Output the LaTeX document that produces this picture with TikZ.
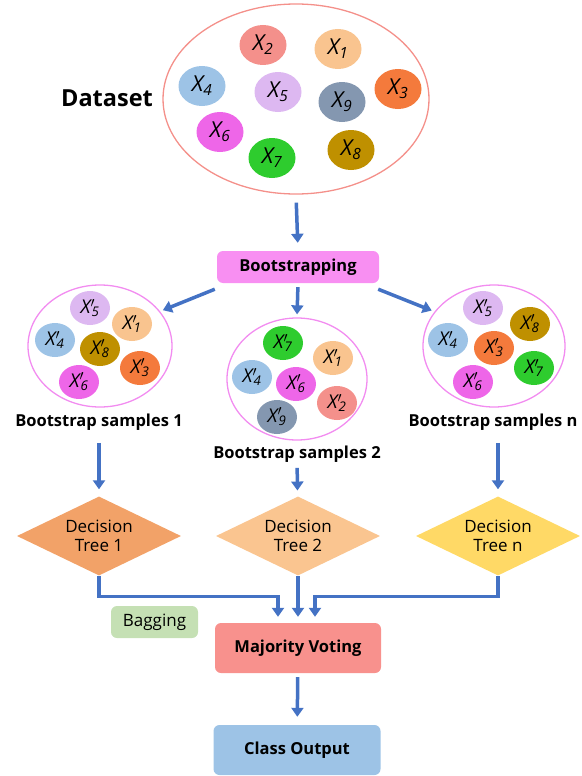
\documentclass[tikz,border=0pt]{standalone}
\usepackage{fontspec}
\setmainfont{Open Sans}
\usetikzlibrary{shapes.geometric,arrows.meta}
\definecolor{arrowblue}{HTML}{4472C4}
\definecolor{dataline}{HTML}{F4908A}
\definecolor{poolline}{HTML}{F28CF0}
\definecolor{cA}{HTML}{F9C48F}
\definecolor{cB}{HTML}{F4908B}
\definecolor{cC}{HTML}{F47A3C}
\definecolor{cD}{HTML}{9DC3E6}
\definecolor{cE}{HTML}{DDB8F1}
\definecolor{cF}{HTML}{EE66E8}
\definecolor{cG}{HTML}{2ECC2E}
\definecolor{cH}{HTML}{BF9000}
\definecolor{cI}{HTML}{8497B0}
\definecolor{bootfill}{HTML}{F88FF2}
\definecolor{tAfill}{HTML}{F2A268}
\definecolor{tBfill}{HTML}{FAC590}
\definecolor{tNfill}{HTML}{FFD966}
\definecolor{bagfill}{HTML}{C5E0B4}
\definecolor{mvfill}{HTML}{F8918D}
\definecolor{outfill}{HTML}{9DC3E6}
\newcommand\xp[1]{X\rlap{$^{\prime}$}\textsubscript{\kern1pt#1}}
\tikzset{px/.style={x=1pt,y=-1pt},
  ball/.style={ellipse,minimum width=47pt,minimum height=40pt,inner sep=0pt,font=\fontsize{22}{22}\selectfont\itshape},
  sball/.style={ellipse,minimum width=40pt,minimum height=34pt,inner sep=0pt,font=\fontsize{19}{19}\selectfont\itshape},
  pool/.style={ellipse,draw=poolline,line width=1.3pt,inner sep=0pt,minimum height=122pt},
  arr/.style={arrowblue,line width=3.5pt,-{Triangle[length=9pt,width=12pt]}},
  box/.style={rounded corners=6pt,inner sep=0pt,font=\fontsize{16.5}{16.5}\selectfont\bfseries},
  tree/.style={diamond,aspect=2.1,inner sep=0pt,minimum width=164pt,minimum height=79pt,align=center,font=\fontsize{17}{19}\selectfont},
  lab/.style={font=\fontsize{16.5}{16.5}\selectfont\bfseries}}
\begin{document}
\begin{tikzpicture}[px]
  \useasboundingbox (0,0) rectangle (581,776);
  % dataset
  \node[ellipse,draw=dataline,line width=1.3pt,minimum width=266pt,minimum height=190pt] (data) at (296,99) {};
  \node[font=\fontsize{23.5}{23.5}\selectfont\bfseries] (dname) at (107,98) {Dataset};
  \foreach \i/\x/\y/\c in {1/338/49/cA,2/263/45/cB,3/398/89/cC,4/202/86/cD,5/278/92/cE,6/220/132/cF,7/272/158/cG,8/351/150/cH,9/342/102/cI}
    {\node[ball,fill=\c] (d\i) at (\x,\y) {X\textsubscript{\i}};}
  \node[box,fill=bootfill,minimum width=162pt,minimum height=32pt] (boot) at (298,267) {Bootstrapping};
  \draw[arr,shorten <=8pt,shorten >=8pt] (data.south) -- (boot.north);
  % bootstrap samples
  \node[pool,minimum width=144pt] (s1) at (100,346) {};
  \node[pool,minimum width=140pt] (s2) at (297,379) {};
  \node[pool,minimum width=142pt] (sn) at (494,346) {};
  \foreach \i/\x/\y/\c in {5/90/308/cE,1/132/324/cA,4/55/340/cD,8/100/349/cH,3/140/368/cC,6/79/382/cF}
    {\node[sball,fill=\c] (a\i) at (\x,\y) {\xp{\i}};}
  \foreach \i/\x/\y/\c in {7/283/343/cG,1/333/358/cA,4/252/377/cD,6/296/384/cF,2/337/403/cB,9/277/417/cI}
    {\node[sball,fill=\c] (b\i) at (\x,\y) {\xp{\i}};}
  \foreach \i/\x/\y/\c in {5/483/308/cE,8/530/324/cH,4/448/340/cD,3/494/348/cC,7/534/368/cG,6/473/382/cF}
    {\node[sball,fill=\c] (n\i) at (\x,\y) {\xp{\i}};}
  \node[lab] (l1) at (99,422) {Bootstrap samples 1};
  \node[lab] (l2) at (297,454) {Bootstrap samples 2};
  \node[lab] (ln) at (493,422) {Bootstrap samples n};
  \draw[arr,shorten >=3pt] ([xshift=-2pt,yshift=-6pt]boot.south west) -- (s1.30);
  \draw[arr,shorten <=4pt,shorten >=3pt] (boot.south) -- (s2.north);
  \draw[arr,shorten >=3pt] ([xshift=-1pt,yshift=-6pt]boot.south east) -- (sn.150);
  % trees
  \node[tree,fill=tAfill] (t1) at (99,536) {Decision\\Tree 1};
  \node[tree,fill=tBfill] (t2) at (298,536) {Decision\\Tree 2};
  \node[tree,fill=tNfill] (tn) at (498,536) {Decision\\Tree n};
  \draw[arr,shorten <=9pt,shorten >=7pt] (l1) -- (t1);
  \draw[arr,shorten <=2pt,shorten >=6pt] (l2) -- (t2);
  \draw[arr,shorten <=9pt,shorten >=7pt] (tn.north |- ln.south) -- (tn.north);
  % voting
  \node[box,fill=mvfill,minimum width=166pt,minimum height=50pt] (mv) at (298,648) {Majority Voting};
  \node[box,fill=bagfill,minimum width=87pt,minimum height=32pt,font=\fontsize{17}{17}\selectfont] (bagging) at (154.5,622) {Bagging};
  \node[box,fill=outfill,minimum width=167pt,minimum height=50pt] (out) at (297,750) {Class Output};
  \draw[arr,shorten >=6pt] (t1.south) -- ++(0,21) -| ([xshift=-20pt]mv.north);
  \draw[arr,shorten >=6pt] (t2) -- (mv);
  \draw[arr,shorten >=6pt] (tn.south) -- ++(0,21) -| ([xshift=17pt]mv.north);
  \draw[arr,shorten <=4pt,shorten >=8pt] (mv) -- (out);
\end{tikzpicture}
\end{document}
